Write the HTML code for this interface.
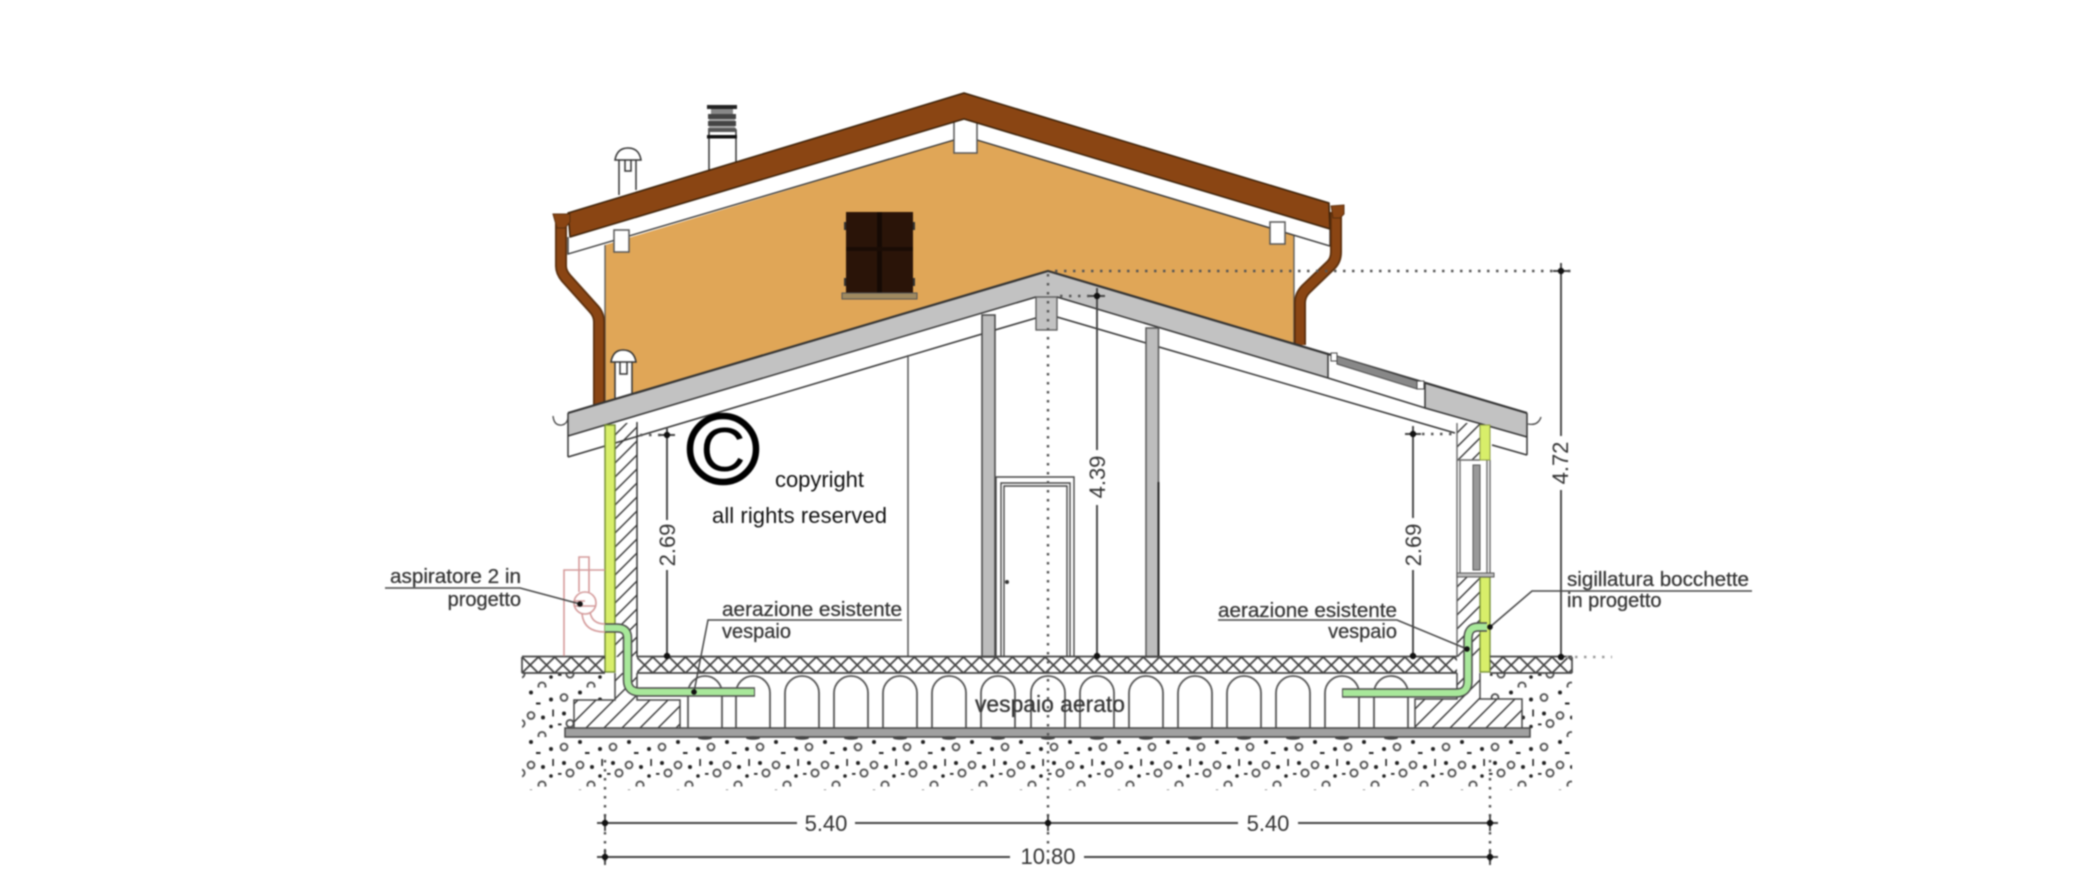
<!DOCTYPE html>
<html><head><meta charset="utf-8"><style>
html,body{margin:0;padding:0;background:#fff;width:2093px;height:870px;overflow:hidden}
svg{display:block;filter:blur(.75px)}
text{font-family:"Liberation Sans",sans-serif;fill:#333}
</style></head><body>
<svg width="2093" height="870" viewBox="0 0 2093 870" xmlns="http://www.w3.org/2000/svg">
<defs>
<pattern id="h" width="14" height="14" patternUnits="userSpaceOnUse"><path d="M-3 3L3 -3M0 14L14 0M11 17L17 11" stroke="#333" stroke-width="1.4"/></pattern>
<pattern id="f" width="18" height="18" patternUnits="userSpaceOnUse"><path d="M-3 3L3 -3M0 18L18 0M15 21L21 15" stroke="#333" stroke-width="1.4"/></pattern>
<pattern id="x" width="16.35" height="16" x="522" y="657" patternUnits="userSpaceOnUse"><path d="M0 0L16.35 16M16.35 0L0 16" stroke="#444" stroke-width="1.8"/></pattern>
<pattern id="g" width="49" height="49.5" x="900" y="737" patternUnits="userSpaceOnUse">
<g fill="#fff" stroke="#555" stroke-width="1.9"><circle cx="7" cy="10" r="3.4"/><circle cx="23" cy="28" r="3.4"/><circle cx="13" cy="36" r="3.6"/><circle cx="34" cy="48" r="3.6"/></g>
<g fill="#222"><circle cx="23" cy="5" r="2"/><circle cx="43" cy="12" r="2"/><rect x="28" y="15" width="4.500" height="2"/><circle cx="7" cy="26" r="2"/><circle cx="35" cy="30" r="2"/><rect x="44.300" y="22" width="1.600" height="7"/><circle cx="43" cy="39" r="1.800"/><rect x="1" y="36" width="3.500" height="1.800"/></g>
</pattern>
</defs>
<rect width="2093" height="870" fill="#fff"/>

<!-- gravel -->
<rect x="522" y="673" width="1050" height="117" fill="url(#g)"/>
<rect x="605" y="673" width="885" height="65" fill="#fff"/>
<rect x="574" y="700" width="40" height="30" fill="#fff"/>
<rect x="1490" y="699" width="32" height="30" fill="#fff"/>

<!-- chimney and vents -->
<g stroke="#333" stroke-width="1.500" fill="#fff">
<rect x="709" y="130" width="27" height="40"/>
<path d="M619 195V158H636V190"/><path d="M615 160Q617 148 628 148Q639 148 641 160Z"/><path d="M625 160V171H631V160" fill="none"/>
</g>
<rect x="707" y="105" width="30" height="4" fill="#222"/><rect x="711" y="109" width="22" height="5" fill="#888"/>
<rect x="708" y="114" width="28" height="5" fill="#444"/><rect x="709" y="119" width="26" height="2" fill="#aaa"/><rect x="708" y="121" width="28" height="5" fill="#444"/><rect x="709" y="126" width="26" height="2" fill="#aaa"/><rect x="708" y="128" width="28" height="4" fill="#555"/><rect x="707" y="135" width="30" height="3.500" fill="#111"/>

<!-- upper wall -->
<polygon points="605,245 954,140 977,140 1294,235 1294,344 1048,271 605,402" fill="#e0a657"/>
<path d="M605 245V402M1294 235V344" stroke="#555" stroke-width="1.300" fill="none"/>
<!-- fascia -->
<polygon points="568,237 964,119 1330,229 1330,246 977,140 954,140 568,254" fill="#fff"/>
<path d="M568 237V254L954 140M977 140L1330 246V229" stroke="#333" stroke-width="1.400" fill="none"/>
<rect x="954" y="118" width="23" height="35" fill="#fff" stroke="#555" stroke-width="1.500"/>
<rect x="614" y="230" width="15" height="22" fill="#fff" stroke="#555" stroke-width="1.500"/>
<rect x="1270" y="222" width="15" height="22" fill="#fff" stroke="#555" stroke-width="1.500"/>
<!-- upper roof -->
<polygon points="964,93 1329,203 1330,229 964,119 570,237 568,213" fill="#8a4513" stroke="#3a2008" stroke-width="1.500" stroke-linejoin="round"/>

<!-- window -->
<rect x="846" y="212" width="67" height="81" fill="#2a1408"/>
<rect x="877" y="212" width="5" height="81" fill="#160a04"/>
<rect x="846" y="247" width="67" height="4" fill="#1a0c05"/>
<rect x="844" y="222" width="2" height="8" fill="#333"/><rect x="913" y="222" width="2" height="8" fill="#333"/><rect x="844" y="278" width="2" height="8" fill="#333"/><rect x="913" y="278" width="2" height="8" fill="#333"/>
<rect x="842" y="293" width="75" height="6" fill="#a08a60" stroke="#555"/>

<!-- gutters -->
<path d="M561 222V266Q561 272 566 278L593 308Q599 314 599 322V405" fill="none" stroke="#5a2e0c" stroke-width="12"/>
<path d="M561 222V266Q561 272 566 278L593 308Q599 314 599 322V405" fill="none" stroke="#8a4513" stroke-width="8.500"/>
<polygon points="553,214 570,214 570,222 565,228 557,228" fill="#8a4513" stroke="#5a2e0c"/>
<path d="M1336 212V252Q1336 260 1331 265L1306 289Q1300 295 1300 303V345" fill="none" stroke="#5a2e0c" stroke-width="12"/>
<path d="M1336 212V252Q1336 260 1331 265L1306 289Q1300 295 1300 303V345" fill="none" stroke="#8a4513" stroke-width="8.500"/>
<polygon points="1331,206 1344,205 1344,214 1340,218 1333,218" fill="#8a4513" stroke="#5a2e0c"/>

<!-- lower vent -->
<g stroke="#333" stroke-width="1.500" fill="#fff">
<path d="M615 398V360H632V394"/><path d="M611 362Q613 350 623 350Q634 350 636 362Z"/><path d="M620 362V374H627V362" fill="none"/>
</g>

<!-- lower roof -->
<polygon points="1048,271 1527,413 1527,455 1492,445 1057,317 1048,317 568,457 568,413" fill="#fff"/>
<polygon points="568,413 1048,271 1328,354 1328,378 1057,297 1036,297 568,436" fill="#c2c2c2"/>
<polygon points="1425,383 1527,413 1527,437 1425,408" fill="#c2c2c2"/>
<path d="M568 413L1048 271L1527 413" fill="none" stroke="#333" stroke-width="2.200"/>
<path d="M568 413V457M568 436L1036 297M1057 297L1328 378V354M1328 378L1425 408V383M1425 408L1527 437M1527 413V455M568 457L982 334M995 330L1036 318M1057 317L1146 343M1159 347L1455 433M1492 445L1527 455" fill="none" stroke="#333" stroke-width="1.500"/>
<polygon points="1337,356 1417,381 1417,389 1337,364" fill="#888" stroke="#444"/>
<rect x="1331" y="353" width="6" height="8" fill="#fff" stroke="#444"/>
<rect x="1417" y="381" width="7" height="8" fill="#fff" stroke="#444"/>
<rect x="1036" y="297" width="21" height="33" fill="#c2c2c2" stroke="#555" stroke-width="1.300"/>
<path d="M553 416Q554 426 562 425Q567 424 568 418M1528 424Q1538 426 1541 417" fill="none" stroke="#444" stroke-width="1.300"/>

<!-- interior -->
<path d="M908 355V656" stroke="#555" stroke-width="1.500"/>
<rect x="982" y="315" width="13" height="342" fill="#bdbdbd" stroke="#444" stroke-width="1.500"/>
<rect x="1146" y="328" width="12.500" height="329" fill="#bdbdbd" stroke="#555" stroke-width="1.500"/>
<path d="M1158.500 482V657" stroke="#222" stroke-width="2"/>
<path d="M996 657V477H1074V657M1001 657V483H1070V657M1004 657V486H1067V657" fill="none" stroke="#444" stroke-width="1.400"/>
<circle cx="1007" cy="582" r="2" fill="#333"/>

<!-- walls left -->
<rect x="615" y="423" width="22" height="234" fill="url(#h)"/>
<path d="M637 422V657" stroke="#333" stroke-width="1.500"/>
<rect x="605" y="425" width="10" height="247" fill="#d8ee6a" stroke="#6f8a30" stroke-width="1.400"/>
<!-- walls right -->
<rect x="1457" y="423" width="23" height="37" fill="url(#h)"/>
<rect x="1457" y="577" width="23" height="80" fill="url(#h)"/>
<path d="M1457 423V657M1460 460V573M1457 460H1480M1490 460V573M1487 460V573" stroke="#666" stroke-width="1.400" fill="none"/>
<rect x="1480" y="425" width="10" height="35" fill="#d8ee6a" stroke="#8a9a40" stroke-width="1"/>
<rect x="1480" y="577" width="10" height="95" fill="#d8ee6a" stroke="#6f8a30" stroke-width="1.300"/>
<rect x="1473" y="465" width="7" height="105" fill="#999" stroke="#555"/>
<rect x="1457" y="573" width="37" height="4" fill="#bbb" stroke="#555"/>

<!-- floor -->
<rect x="522" y="657" width="83" height="16" fill="url(#x)"/>
<rect x="637" y="657" width="820" height="16" fill="url(#x)"/>
<rect x="1490" y="657" width="82" height="16" fill="url(#x)"/>
<path d="M522 656.500H605M637 656.500H1457M1490 656.500H1572M522 673H605M637 673H1457M1490 673H1572M522 657V673M1572 657V673" stroke="#444" stroke-width="1.700" fill="none"/>
<!-- arches -->
<g fill="none" stroke="#555" stroke-width="1.800">
<path d="M688 728V693A17 17 0 0 1 722 693V728M736 728V693A17 17 0 0 1 770 693V728M785 728V693A17 17 0 0 1 819 693V728M834 728V693A17 17 0 0 1 868 693V728M883 728V693A17 17 0 0 1 917 693V728M932 728V693A17 17 0 0 1 966 693V728M981 728V693A17 17 0 0 1 1015 693V728M1031 728V693A17 17 0 0 1 1065 693V728M1080 728V693A17 17 0 0 1 1114 693V728M1129 728V693A17 17 0 0 1 1163 693V728M1178 728V693A17 17 0 0 1 1212 693V728M1227 728V693A17 17 0 0 1 1261 693V728M1276 728V693A17 17 0 0 1 1310 693V728M1325 728V693A17 17 0 0 1 1359 693V728M1374 728V693A17 17 0 0 1 1408 693V728"/>
</g>
<!-- foundations -->
<polygon points="574,700 615,700 615,673 637,673 637,700 680,700 680,728 574,728" fill="url(#f)" stroke="none"/>
<path d="M615 673V700H574V728M637 673V700H680V728" fill="none" stroke="#444" stroke-width="1.500"/>
<polygon points="1415,699 1457,699 1457,673 1480,673 1480,699 1522,699 1522,728 1415,728" fill="url(#f)"/>
<path d="M1457 673V699H1415V728M1480 673V699H1522V728" fill="none" stroke="#444" stroke-width="1.500"/>
<!-- slab -->
<rect x="565" y="728" width="965" height="9" fill="#a0a0a0" stroke="#444" stroke-width="1.500"/>
<g fill="#444"><ellipse cx="705" cy="738" rx="7" ry="1.800"/><ellipse cx="753" cy="738" rx="7" ry="1.800"/><ellipse cx="802" cy="738" rx="7" ry="1.800"/><ellipse cx="851" cy="738" rx="7" ry="1.800"/><ellipse cx="900" cy="738" rx="7" ry="1.800"/><ellipse cx="949" cy="738" rx="7" ry="1.800"/><ellipse cx="998" cy="738" rx="7" ry="1.800"/><ellipse cx="1048" cy="738" rx="7" ry="1.800"/><ellipse cx="1097" cy="738" rx="7" ry="1.800"/><ellipse cx="1146" cy="738" rx="7" ry="1.800"/><ellipse cx="1195" cy="738" rx="7" ry="1.800"/><ellipse cx="1244" cy="738" rx="7" ry="1.800"/><ellipse cx="1293" cy="738" rx="7" ry="1.800"/><ellipse cx="1342" cy="738" rx="7" ry="1.800"/><ellipse cx="1391" cy="738" rx="7" ry="1.800"/></g>

<!-- red aspirator -->
<g fill="none" stroke="#d49a9a" stroke-width="1.600">
<path d="M564 656V570H605"/>
<path d="M579 592V557H589V592"/>
<circle cx="585" cy="603" r="11" fill="#fff"/>
<path d="M585 601H574M574 606H596" />
<path d="M582 614Q584 632 605 632M590 612Q592 624 605 624" />
</g>

<!-- green pipes -->
<g fill="none" stroke-linecap="butt">
<path d="M605 628H617Q627.500 628 627.500 638V680Q627.500 692 640 692H755" stroke="#4a4a4a" stroke-width="9.500"/>
<path d="M605 628H617Q627.500 628 627.500 638V680Q627.500 692 640 692H754" stroke="#a8e89a" stroke-width="6.500"/>
<path d="M1487 627H1478Q1468 627 1468 639V681Q1468 693 1456 693H1342" stroke="#4a4a4a" stroke-width="9.500"/>
<path d="M1487 627H1478Q1468 627 1468 639V681Q1468 693 1456 693H1343" stroke="#a8e89a" stroke-width="6.500"/>
</g>

<!-- dotted lines -->
<g fill="none" stroke="#555" stroke-width="2.400" stroke-dasharray="2.500 6.500">
<path d="M1048 274V868"/><path d="M1055 271H1576"/><path d="M1060 296H1097"/>
<path d="M605 760V868"/><path d="M1490 760V868"/><path d="M640 435H667"/><path d="M1413 434H1455"/><path d="M1566 657H1612" stroke="#999"/>
</g>

<!-- dimensions -->
<g stroke="#444" stroke-width="1.900" fill="none">
<path d="M1561 263V436M1561 490V657"/>
<path d="M1097 288V450M1097 505V656"/>
<path d="M667 427V520M667 570V656"/>
<path d="M1413 426V518M1413 570V656"/>
<path d="M597 823H797M855 823H1238M1298 823H1498"/>
<path d="M597 857H1010M1084 857H1498"/>
<path d="M1553 271H1569M1089 296H1105M659 435H675M1405 434H1421M605 815V831M1048 815V831M1490 815V831M605 849V865M1490 849V865"/>
</g>
<g fill="#111"><circle cx="1561" cy="271" r="3.200"/><circle cx="1561" cy="657" r="3.200"/><circle cx="1097" cy="296" r="3.200"/><circle cx="1097" cy="656" r="3.200"/><circle cx="667" cy="435" r="3.200"/><circle cx="667" cy="656" r="3.200"/><circle cx="1413" cy="434" r="3.200"/><circle cx="1413" cy="656" r="3.200"/><circle cx="605" cy="823" r="3.200"/><circle cx="1048" cy="823" r="3.200"/><circle cx="1490" cy="823" r="3.200"/><circle cx="605" cy="857" r="3.200"/><circle cx="1490" cy="857" r="3.200"/></g>
<g font-size="22" text-anchor="middle">
<text transform="translate(1568 463) rotate(-90)">4.72</text>
<text transform="translate(1105 477) rotate(-90)">4.39</text>
<text transform="translate(675 545) rotate(-90)">2.69</text>
<text transform="translate(1421 545) rotate(-90)">2.69</text>
<text x="826" y="831">5.40</text>
<text x="1268" y="831">5.40</text>
<text x="1048" y="864">10.80</text>
</g>

<!-- leaders -->
<g fill="none" stroke="#444" stroke-width="1.500">
<path d="M385 588H520L580 604"/>
<path d="M902 620H708L694 692"/>
<path d="M1218 620H1397L1467 649"/>
<path d="M1752 591H1532L1490 627"/>
</g>
<g fill="#111"><circle cx="580" cy="604" r="2.800"/><circle cx="694" cy="692" r="2.800"/><circle cx="1467" cy="649" r="2.800"/><circle cx="1490" cy="627" r="2.800"/></g>
<g font-size="20" stroke="#444" stroke-width=".3">
<text x="390" y="583" textLength="131" lengthAdjust="spacingAndGlyphs">aspiratore 2 in</text>
<text x="521" y="606" text-anchor="end">progetto</text>
<text x="722" y="616" textLength="180" lengthAdjust="spacingAndGlyphs">aerazione esistente</text>
<text x="722" y="638">vespaio</text>
<text x="1218" y="617" textLength="179" lengthAdjust="spacingAndGlyphs">aerazione esistente</text>
<text x="1397" y="638" text-anchor="end">vespaio</text>
<text x="1567" y="586" textLength="182" lengthAdjust="spacingAndGlyphs">sigillatura bocchette</text>
<text x="1567" y="607">in progetto</text>
<text x="975" y="712" font-size="23" textLength="150" lengthAdjust="spacingAndGlyphs">vespaio aerato</text>
</g>

<!-- copyright -->
<circle cx="723" cy="449" r="33" fill="none" stroke="#000" stroke-width="6.500"/>
<text x="723" y="471" font-size="62" text-anchor="middle" style="fill:#000">C</text>
<text x="775" y="487" font-size="22" textLength="89" style="fill:#111">copyright</text>
<text x="712" y="523" font-size="22" textLength="175" style="fill:#111">all rights reserved</text>
</svg>
</body></html>
